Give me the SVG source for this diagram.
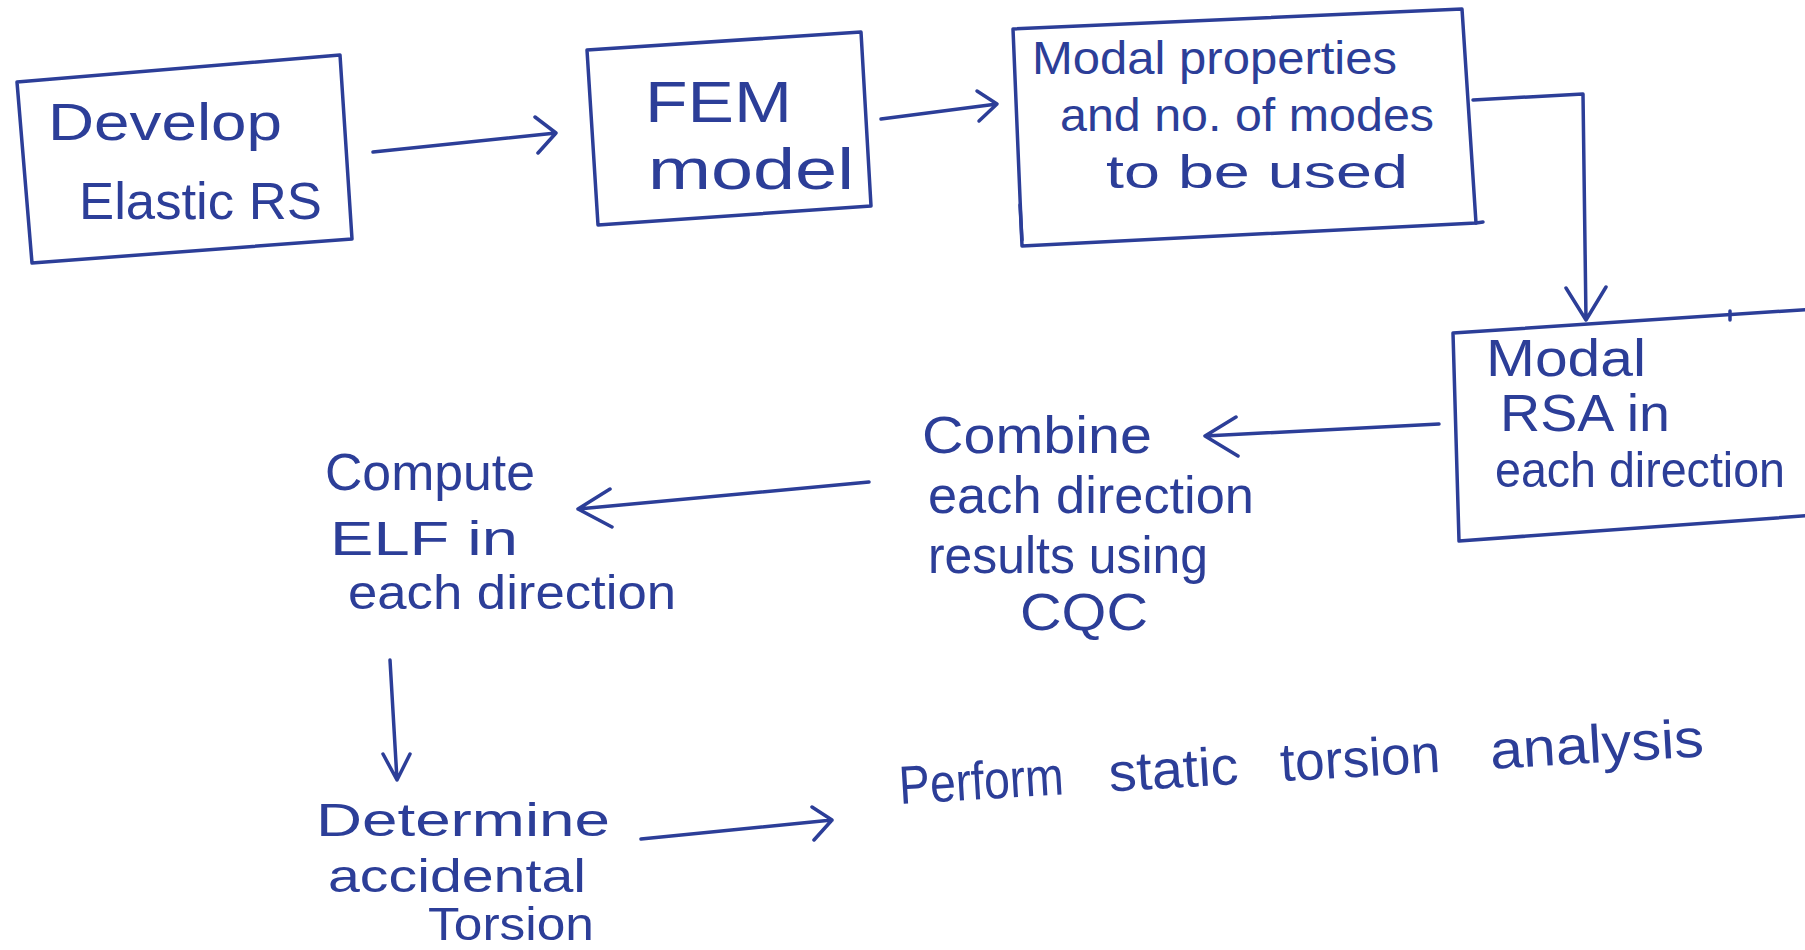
<svg xmlns="http://www.w3.org/2000/svg" width="1805" height="950" viewBox="0 0 1805 950">
  <defs>
    <style>
      .ink { fill: none; stroke: #2c3e98; stroke-width: 3.5; stroke-linecap: round; stroke-linejoin: round; }
      .hand { fill: #2c3e98; font-family: "Liberation Sans", "DejaVu Sans", sans-serif; }
      .l { font-size: 52px; }
      .m { font-size: 46px; }
    </style>
  </defs>
  <rect width="1805" height="950" fill="#ffffff"/>

  <!-- process steps -->
  <g id="develop-rs">
    <polygon class="ink" points="17,82 340,55 352,239 32,263"/>
    <text class="hand l" x="48" y="140" textLength="234" lengthAdjust="spacingAndGlyphs">Develop</text>
    <text class="hand l" x="79" y="219" textLength="243" lengthAdjust="spacingAndGlyphs">Elastic RS</text>
  </g>

  <g id="fem-model">
    <polygon class="ink" points="587,50 861,32 871,206 598,225"/>
    <text class="hand" font-size="58" x="645" y="122" textLength="147" lengthAdjust="spacingAndGlyphs">FEM</text>
    <text class="hand" font-size="58" x="648" y="189" textLength="206" lengthAdjust="spacingAndGlyphs">model</text>
  </g>

  <g id="modal-properties">
    <polygon class="ink" points="1013,29 1462,9 1476,223 1022,246"/>
    <line class="ink" x1="1476" y1="223" x2="1483" y2="222"/>
    <line class="ink" x1="1020" y1="205" x2="1022" y2="240"/>
    <text class="hand m" x="1032" y="74" textLength="365" lengthAdjust="spacingAndGlyphs">Modal properties</text>
    <text class="hand m" x="1060" y="131" textLength="374" lengthAdjust="spacingAndGlyphs">and no. of modes</text>
    <text class="hand m" x="1106" y="188" textLength="302" lengthAdjust="spacingAndGlyphs">to be used</text>
  </g>

  <g id="modal-rsa">
    <polygon class="ink" points="1453,333 1830,308 1830,514 1459,541"/>
    <line class="ink" x1="1730" y1="311" x2="1730" y2="320"/>
    <text class="hand l" x="1486" y="376" textLength="160" lengthAdjust="spacingAndGlyphs">Modal</text>
    <text class="hand l" x="1500" y="431" textLength="170" lengthAdjust="spacingAndGlyphs">RSA in</text>
    <text class="hand" font-size="50" x="1495" y="487" textLength="290" lengthAdjust="spacingAndGlyphs">each direction</text>
  </g>

  <g id="combine-cqc">
    <text class="hand l" x="922" y="453" textLength="230" lengthAdjust="spacingAndGlyphs">Combine</text>
    <text class="hand l" x="928" y="513" textLength="326" lengthAdjust="spacingAndGlyphs">each direction</text>
    <text class="hand l" x="928" y="573" textLength="280" lengthAdjust="spacingAndGlyphs">results using</text>
    <text class="hand l" x="1020" y="630" textLength="128" lengthAdjust="spacingAndGlyphs">CQC</text>
  </g>

  <g id="compute-elf">
    <text class="hand l" x="325" y="490" textLength="210" lengthAdjust="spacingAndGlyphs">Compute</text>
    <text class="hand" font-size="48" x="330" y="555" textLength="188" lengthAdjust="spacingAndGlyphs">ELF in</text>
    <text class="hand" font-size="48" x="348" y="609" textLength="328" lengthAdjust="spacingAndGlyphs">each direction</text>
  </g>

  <g id="accidental-torsion">
    <text class="hand m" x="316" y="836" textLength="294" lengthAdjust="spacingAndGlyphs">Determine</text>
    <text class="hand m" x="328" y="892" textLength="258" lengthAdjust="spacingAndGlyphs">accidental</text>
    <text class="hand m" x="428" y="940" textLength="166" lengthAdjust="spacingAndGlyphs">Torsion</text>
  </g>

  <g id="static-torsion">
    <text class="hand" font-size="54" y="804" transform="rotate(-3.4 900 804)"><tspan x="900" textLength="165" lengthAdjust="spacingAndGlyphs">Perform</tspan> <tspan x="1110" textLength="130" lengthAdjust="spacingAndGlyphs">static</tspan> <tspan x="1282" textLength="160" lengthAdjust="spacingAndGlyphs">torsion</tspan> <tspan x="1492" textLength="214" lengthAdjust="spacingAndGlyphs">analysis</tspan></text>
  </g>

  <!-- connectors: hand-drawn lines with open V heads -->
  <g id="connectors" class="ink">
    <path d="M373,152 L556,133 M535,117 L556,133 L538,153"/>
    <path d="M881,119 L997,104 M977,91 L997,104 L979,121"/>
    <path d="M1473,100 L1583,94 L1586,320 M1566,288 L1586,320 L1606,287"/>
    <path d="M1439,424 L1205,436 M1236,417 L1205,436 L1238,456"/>
    <path d="M869,482 L578,509 M610,489 L578,509 L612,527"/>
    <path d="M390,660 L397,780 M383,754 L397,780 L410,754"/>
    <path d="M641,839 L832,820 M812,807 L832,820 L814,840"/>
  </g>
</svg>
